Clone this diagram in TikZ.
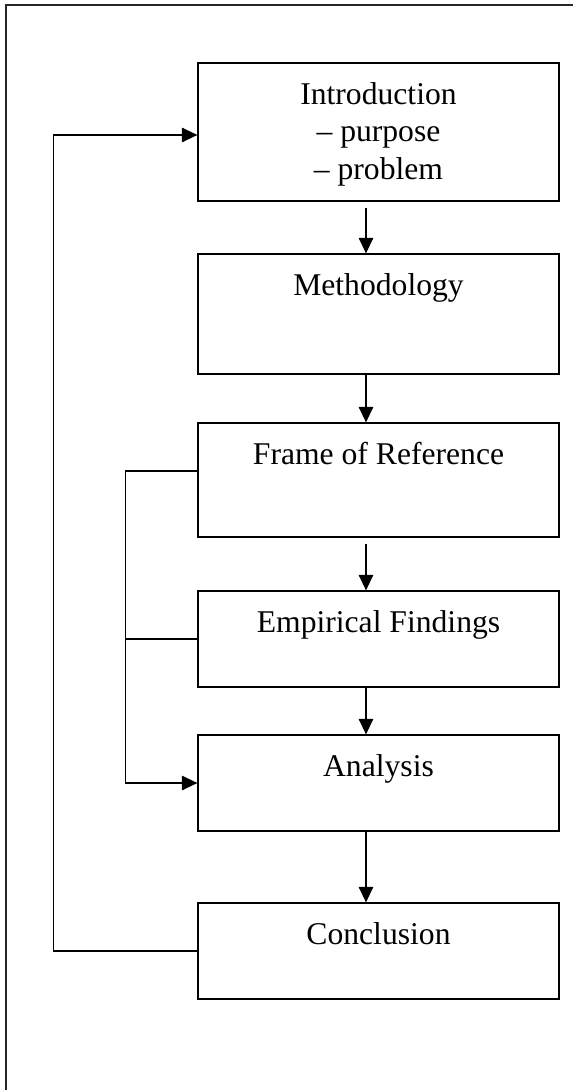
\documentclass[tikz,border=0pt]{standalone}
\usepackage{fontspec}
\setmainfont{Liberation Serif}
\usepackage{tikz}
\usetikzlibrary{arrows.meta,positioning}

\begin{document}
\begin{tikzpicture}[x=0.2mm,y=-0.2mm,
  stage/.style={rectangle,draw=black,line width=0.7pt,minimum width=72.2mm,inner sep=0pt},
  caption/.style={align=center,inner sep=0pt,font=\fontsize{18}{21.3}\selectfont},
  flow/.style={-{Triangle[length=3.1mm,width=2.9mm]},line width=0.7pt},
  link/.style={line width=0.7pt}]
\useasboundingbox (0,0) rectangle (573,1090);
% page frame, open to the right and bottom
\draw[line width=0.7pt,black!85] (6,1090) -- (6,5) -- (573,5);

\node[stage,minimum height=27.6mm] (intro) at (378.5,132) {};
\node[caption,below=3.9mm of intro.north] (introtext) {Introduction\\\textendash\ purpose\\\textendash\ problem};
\node[stage,minimum height=24mm] (method) at (378.5,314) {};
\node[caption,below=3.9mm of method.north] (methodtext) {Methodology};
\node[stage,minimum height=22.8mm] (frame) at (378.5,480) {};
\node[caption,below=3.9mm of frame.north] (frametext) {Frame of Reference};
\node[stage,minimum height=19.2mm] (empirical) at (378.5,639) {};
\node[caption,below=3.9mm of empirical.north] (empiricaltext) {Empirical Findings};
\node[stage,minimum height=19.2mm] (analysis) at (378.5,783) {};
\node[caption,below=3.9mm of analysis.north] (analysistext) {Analysis};
\node[stage,minimum height=19.2mm] (conclusion) at (378.5,951) {};
\node[caption,below=3.9mm of conclusion.north] (conclusiontext) {Conclusion};

% main chain
\draw[flow,shorten <=1.2mm] ([xshift=-2.5mm]intro.south) -- ([xshift=-2.5mm]method.north);
\draw[flow] ([xshift=-2.5mm]method.south) -- ([xshift=-2.5mm]frame.north);
\draw[flow,shorten <=1.2mm] ([xshift=-2.5mm]frame.south) -- ([xshift=-2.5mm]empirical.north);
\draw[flow] ([xshift=-2.5mm]empirical.south) -- ([xshift=-2.5mm]analysis.north);
\draw[flow] ([xshift=-2.5mm]analysis.south) -- ([xshift=-2.5mm]conclusion.north);

% feedback lines
\draw[flow] (conclusion.west) -- ++(-144,0) |- ([yshift=-0.6mm]intro.west);
\draw[flow] ([yshift=1.8mm]frame.west) -- ++(-72,0) coordinate (fork) |- (analysis.west);
\draw[link] (empirical.west) -- (empirical.west -| fork);
\end{tikzpicture}
\end{document}
